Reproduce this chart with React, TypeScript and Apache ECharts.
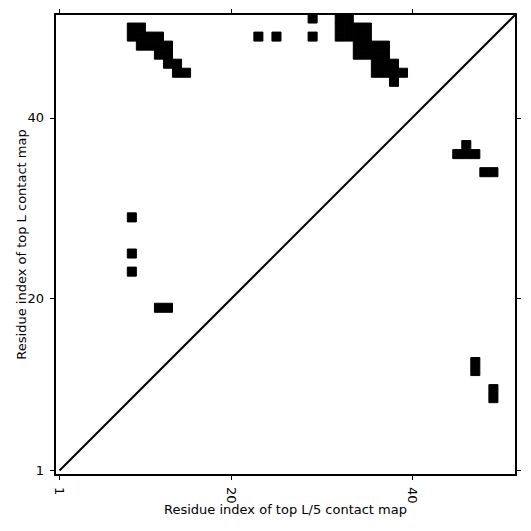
import React, { useEffect, useRef } from "react";
import * as echarts from "echarts";

const tickValues = [1, 20, 40];
const axisMin = 0.5;
const axisMax = 51.5;

// top L contacts (upper-left triangle): [residue i, residue j]
const upperContacts: number[][] = [
  [9, 50], [10, 50],
  [9, 49], [10, 49], [11, 49], [12, 49],
  [10, 48], [11, 48], [12, 48], [13, 48],
  [12, 47], [13, 47],
  [13, 46], [14, 46],
  [14, 45], [15, 45],
  [23, 49], [25, 49], [29, 49], [29, 51],
  [32, 51], [33, 51],
  [32, 50], [33, 50], [34, 50], [35, 50],
  [32, 49], [33, 49], [34, 49], [35, 49],
  [34, 48], [35, 48], [36, 48], [37, 48],
  [34, 47], [35, 47], [36, 47], [37, 47],
  [36, 46], [37, 46], [38, 46],
  [36, 45], [37, 45], [38, 45], [39, 45],
  [38, 44],
  [9, 29], [9, 25], [9, 23],
  [12, 19], [13, 19],
];

// top L/5 contacts (lower-right triangle)
const lowerContacts: number[][] = [
  [46, 37],
  [45, 36], [46, 36], [47, 36],
  [48, 34], [49, 34],
  [47, 13], [47, 12],
  [49, 10], [49, 9],
];

const diagonal: number[][] = [[1, 1], [51.5, 51.5]];

const FONT = "DejaVu Sans";

export default function App() {
  const ref = useRef<HTMLDivElement>(null);
  useEffect(() => {
    if (!ref.current) return;
    const chart = echarts.init(ref.current, undefined, { renderer: "svg" });
    const renderCell = (params: any, api: any) => {
      const x = api.value(0);
      const y = api.value(1);
      const p1 = api.coord([x - 0.5, y + 0.5]);
      const p2 = api.coord([x + 0.5, y - 0.5]);
      return {
        type: "rect",
        shape: { x: p1[0], y: p1[1], width: p2[0] - p1[0], height: p2[1] - p1[1] },
        style: { fill: "#000", stroke: "#000", lineWidth: 1 },
      };
    };
    const baseAxis = {
      type: "value",
      min: axisMin,
      max: axisMax,
      splitLine: { show: false },
      nameMoveOverlap: false,
      axisLine: { show: true, onZero: false, lineStyle: { color: "#000", width: 2 } },
      axisTick: {
        show: true,
        customValues: tickValues,
        length: 5,
        inside: false,
        lineStyle: { color: "#000", width: 1 },
      },
    };
    chart.setOption({
      animation: false,
      backgroundColor: "#fff",
      grid: {
        left: 55,
        right: 15,
        top: 14,
        bottom: 56,
        containLabel: false,
        outerBoundsMode: "none",
      },
      xAxis: [
        {
          ...baseAxis,
          position: "bottom",
          name: "Residue index of top L/5 contact map",
          nameLocation: "middle",
          nameGap: 28,
          nameTextStyle: { color: "#000", fontSize: 13, fontFamily: FONT },
          axisLabel: {
            customValues: tickValues,
            rotate: -90,
            margin: 12,
            color: "#000",
            fontSize: 13,
            fontFamily: FONT,
          },
        },
        {
          ...baseAxis,
          position: "top",
          axisLabel: { show: false },
        },
      ],
      yAxis: [
        {
          ...baseAxis,
          position: "left",
          name: "Residue index of top L contact map",
          nameLocation: "middle",
          nameGap: 27,
          nameTextStyle: { color: "#000", fontSize: 13, fontFamily: FONT },
          axisLabel: {
            customValues: tickValues,
            margin: 11,
            color: "#000",
            fontSize: 13,
            fontFamily: FONT,
          },
        },
        {
          ...baseAxis,
          position: "right",
          axisLabel: { show: false },
        },
      ],
      series: [
        {
          type: "custom",
          renderItem: renderCell,
          data: upperContacts,
          encode: { x: 0, y: 1 },
          clip: true,
        },
        {
          type: "custom",
          renderItem: renderCell,
          data: lowerContacts,
          encode: { x: 0, y: 1 },
          clip: true,
        },
        {
          type: "line",
          data: diagonal,
          symbol: "none",
          clip: true,
          lineStyle: { color: "#000", width: 2 },
        },
      ],
    });
    return () => chart.dispose();
  }, []);
  return (
    <div
      ref={ref}
      style={{ position: "fixed", left: 0, top: 0, width: 531, height: 531 }}
    />
  );
}
